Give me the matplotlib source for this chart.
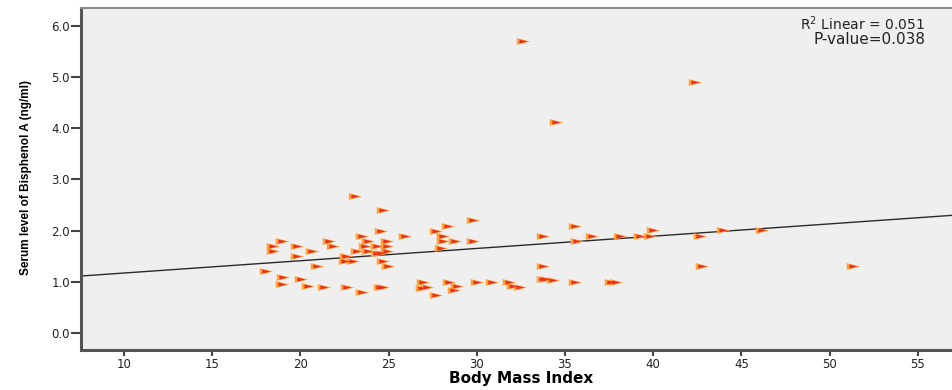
import matplotlib.pyplot as plt
import numpy as np

# valores (IMC x BPA)
bmi = [32.64, 34.49, 42.37, 23.10, 24.67,
       29.77, 28.39, 35.57, 27.70, 24.55, 40.00, 43.97, 46.15,
       23.47, 25.92, 28.06, 33.73, 36.56, 38.12, 39.25, 39.80, 42.65,
       18.94, 21.64, 23.85, 24.90, 28.06, 28.76, 29.77, 35.66,
       18.43, 19.79, 21.87, 23.66, 24.32, 24.90, 27.95,
       18.43, 20.68, 23.19, 23.85, 24.90, 24.32, 24.55,
       19.79, 22.57, 22.53, 22.96, 24.67,
       20.95, 24.95, 33.73, 42.75, 51.34,
       18.04, 19.03, 20.03, 33.73, 33.92, 34.34,
       26.93, 28.44, 29.99, 30.88, 31.84, 35.57, 37.60, 37.87,
       18.94, 20.45, 28.85, 32.07,
       21.36, 22.62, 24.50, 24.70, 27.15, 32.45,
       26.87, 28.71, 23.47, 27.68]
bpa = [5.71, 4.13, 4.91, 2.68, 2.40,
       2.20, 2.10, 2.10, 2.00, 2.00, 2.01, 2.01, 2.01,
       1.90, 1.90, 1.90, 1.90, 1.90, 1.90, 1.90, 1.90, 1.90,
       1.80, 1.80, 1.80, 1.80, 1.80, 1.80, 1.80, 1.80,
       1.70, 1.70, 1.70, 1.70, 1.70, 1.70, 1.67,
       1.60, 1.60, 1.60, 1.60, 1.60, 1.56, 1.56,
       1.50, 1.50, 1.40, 1.40, 1.40,
       1.30, 1.30, 1.30, 1.31, 1.31,
       1.21, 1.10, 1.06, 1.05, 1.05, 1.04,
       1.00, 1.00, 1.00, 1.00, 1.00, 1.00, 1.00, 1.00,
       0.95, 0.92, 0.92, 0.92,
       0.90, 0.90, 0.90, 0.90, 0.90, 0.90,
       0.88, 0.84, 0.81, 0.74]

# reta de regressão
fit_intercept = 0.932
fit_slope = 0.0240

r2_text = 'R$^2$ Linear = 0.051'
p_text = 'P-value=0.038'

fig = plt.figure(figsize=(9.53, 3.9), dpi=100)
ax = fig.add_axes([81/953, 40/390, 872/953, 342/390])
ax.set_facecolor('#efefef')

ax.set_xlim(7.56, 57.0)
ax.set_ylim(-0.332, 6.35)

# linha de ajuste
xs = np.array(ax.get_xlim())
ax.plot(xs, fit_intercept + fit_slope * xs, color='#2a2a2a', lw=1.0, zorder=2)

# marcador triangular achatado (laranja com centro vermelho)
tri = [(-1, -0.5), (1, 0), (-1, 0.5), (-1, -0.5)]
ax.scatter(bmi, bpa, marker=tri, s=95, color='#ffa23a', linewidths=0, zorder=3)
ax.scatter(bmi, bpa, marker=tri, s=35, color='#e8321e', linewidths=0, zorder=4)

ax.set_xticks(range(10, 60, 5))
ax.set_yticks(np.arange(0, 7, 1.0))
ax.set_yticklabels([f'{v:.1f}' for v in np.arange(0, 7, 1.0)])

ax.tick_params(axis='x', length=4, width=1.5, color='#444444', labelsize=8.5, pad=2, labelcolor='#222222')
ax.tick_params(axis='y', length=7, width=1.5, color='#444444', labelsize=8.5, pad=1, labelcolor='#222222')

for s in ['left', 'bottom']:
    ax.spines[s].set_linewidth(2.2)
    ax.spines[s].set_color('#555555')
ax.spines['top'].set_linewidth(1.5)
ax.spines['top'].set_color('#8a8a8a')
ax.spines['right'].set_visible(False)

ax.set_xlabel('Body Mass Index', fontsize=11, fontweight='bold')
ax.xaxis.set_label_coords(0.505, -0.06)
ax.set_ylabel('Serum level of Bisphenol A (ng/ml)', fontsize=8.5, fontweight='bold',
              family=['Liberation Sans Narrow', 'Liberation Sans'], fontstretch='condensed')
ax.yaxis.set_label_coords(-0.056, 0.503)

ax.text(0.968, 0.953, r2_text, transform=ax.transAxes, ha='right', va='center', fontsize=10, color='#222222')
ax.text(0.968, 0.907, p_text, transform=ax.transAxes, ha='right', va='center', fontsize=11, color='#222222')

plt.savefig('out.png', dpi=100)
